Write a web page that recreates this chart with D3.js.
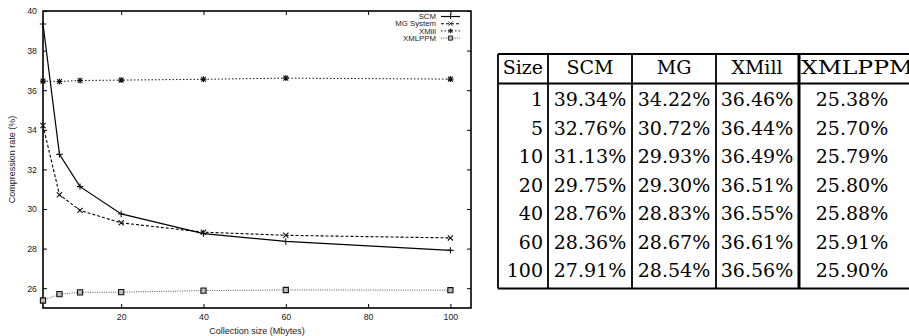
<!DOCTYPE html>
<html>
<head>
<meta charset="utf-8">
<script src="https://cdn.jsdelivr.net/npm/d3@7"></script>
<style>
  body { margin: 0; background: #fff; }
  svg { display: block; }
</style>
</head>
<body>
<svg id="fig" width="909" height="336"></svg>
<script>
// collection sizes (Mbytes) and compression rates (%)
var sizes  = [1, 5, 10, 20, 40, 60, 100];
var scm    = [39.34, 32.76, 31.13, 29.75, 28.76, 28.36, 27.91];
var mg     = [34.22, 30.72, 29.93, 29.30, 28.83, 28.67, 28.54];
var xmill  = [36.46, 36.44, 36.49, 36.51, 36.55, 36.61, 36.56];
var xmlppm = [25.38, 25.70, 25.79, 25.80, 25.88, 25.91, 25.90];
var seriesNames = ["SCM", "MG System", "XMill", "XMLPPM"];
var tableHeads = ["Size", "SCM", "MG", "XMill", "XMLPPM"];
var xTicks = [20, 40, 60, 80, 100];
var yTicks = [26, 28, 30, 32, 34, 36, 38, 40];

var svg = d3.select("#fig");

// ---------- chart ----------
var pLeft = 43, pRight = 471, pTop = 11, pBottom = 308;

var x = d3.scaleLinear().domain([1, 105]).range([pLeft, pRight]);
var y = d3.scaleLinear().domain([25, 40]).range([pBottom, pTop]);

var g = svg.append("g").style("font-family", "'Liberation Sans', Arial, sans-serif");

g.append("g")
    .attr("transform", "translate(" + pLeft + ",0)")
    .call(d3.axisLeft(y).tickValues(yTicks).tickSize(-4).tickPadding(6).tickFormat(d3.format("d")))
    .call(function(a) { a.select(".domain").remove(); });
g.append("g")
    .attr("transform", "translate(" + pRight + ",0)")
    .call(d3.axisRight(y).tickValues(yTicks).tickSize(-4).tickFormat(""))
    .call(function(a) { a.select(".domain").remove(); });
g.append("g")
    .attr("transform", "translate(0," + pBottom + ")")
    .call(d3.axisBottom(x).tickValues(xTicks).tickSize(-4).tickPadding(6))
    .call(function(a) { a.select(".domain").remove(); });
g.append("g")
    .attr("transform", "translate(0," + pTop + ")")
    .call(d3.axisTop(x).tickValues(xTicks).tickSize(-4).tickFormat(""))
    .call(function(a) { a.select(".domain").remove(); });

g.selectAll(".tick text").attr("font-size", 8.8).attr("fill", "#222").attr("font-family", null);
g.selectAll(".tick line").attr("stroke", "#000").attr("stroke-width", 1);

g.append("rect")
    .attr("x", pLeft).attr("y", pTop)
    .attr("width", pRight - pLeft).attr("height", pBottom - pTop)
    .attr("fill", "none").attr("stroke", "#000").attr("stroke-width", 1.6);

g.append("text")
    .attr("transform", "translate(15," + ((pTop + pBottom) / 2) + ") rotate(-90)")
    .attr("text-anchor", "middle")
    .attr("font-size", 9).attr("fill", "#222")
    .text("Compression rate (%)");

g.append("text")
    .attr("x", (pLeft + pRight) / 2).attr("y", 334)
    .attr("text-anchor", "middle")
    .attr("font-size", 9).attr("fill", "#222")
    .text("Collection size (Mbytes)");

// marker shapes
function plus(s) { return "M" + -s + ",0H" + s + "M0," + -s + "V" + s; }
function cross(s) { return "M" + -s + "," + -s + "L" + s + "," + s + "M" + -s + "," + s + "L" + s + "," + -s; }
function square(s) { return "M" + -s + "," + -s + "H" + s + "V" + s + "H" + -s + "Z"; }

var styles = [
  { vals: scm,    dash: null,    color: "#000", width: 1.2, mark: plus(3.2),            fill: "none" },
  { vals: mg,     dash: "3,2",   color: "#000", width: 1.1, mark: cross(2.6),           fill: "none" },
  { vals: xmill,  dash: "1.5,2", color: "#111", width: 1.0, mark: plus(3) + cross(2.4), fill: "none" },
  { vals: xmlppm, dash: "1,1.3", color: "#555", width: 1.0, mark: square(2.6),          fill: "#bbb" }
];

var line = d3.line()
    .x(function(d) { return x(d[0]); })
    .y(function(d) { return y(d[1]); });

styles.forEach(function(s) {
  var pts = sizes.map(function(v, i) { return [v, s.vals[i]]; });
  g.append("path")
      .attr("d", line(pts))
      .attr("fill", "none")
      .attr("stroke", s.color)
      .attr("stroke-width", s.width)
      .attr("stroke-dasharray", s.dash);
  g.selectAll(null)
      .data(pts)
      .enter().append("path")
      .attr("transform", function(d) { return "translate(" + x(d[0]) + "," + y(d[1]) + ")"; })
      .attr("d", s.mark)
      .attr("fill", s.fill)
      .attr("stroke", "#111")
      .attr("stroke-width", 1.1);
});

// legend
var legend = g.append("g").attr("transform", "translate(436,16.5)");
seriesNames.forEach(function(name, i) {
  var row = legend.append("g").attr("transform", "translate(0," + (i * 7.2) + ")");
  row.append("text")
      .attr("text-anchor", "end")
      .attr("dy", "0.35em")
      .attr("font-size", 7.8).attr("fill", "#222")
      .text(name);
  row.append("line")
      .attr("x1", 5).attr("x2", 24)
      .attr("stroke", styles[i].color)
      .attr("stroke-width", styles[i].width)
      .attr("stroke-dasharray", styles[i].dash);
  row.append("path")
      .attr("transform", "translate(14.5,0) scale(0.8)")
      .attr("d", styles[i].mark)
      .attr("fill", styles[i].fill)
      .attr("stroke", "#111")
      .attr("stroke-width", 1.1);
});

// ---------- table ----------
var colEdges = [498, 548, 632, 716, 799];
var tTop = 54, tHead = 83.5, tBottom = 288.5;
var rowY = d3.scaleLinear().domain([0, sizes.length - 1]).range([106, 277]);

var t = svg.append("g").style("font-family", "'DejaVu Serif', serif").attr("font-size", 19);

// borders
[tTop, tHead, tBottom].forEach(function(ly) {
  t.append("line").attr("x1", colEdges[0]).attr("x2", 909).attr("y1", ly).attr("y2", ly)
      .attr("stroke", "#000").attr("stroke-width", 1.8);
});
colEdges.forEach(function(cx, i) {
  t.append("line").attr("x1", cx).attr("x2", cx).attr("y1", tTop).attr("y2", tBottom)
      .attr("stroke", "#000").attr("stroke-width", i === 4 ? 3 : 1.8);
});

// header
var headX = [543, 590, 674, 757, 801];
var headAnchor = ["end", "middle", "middle", "middle", "start"];
tableHeads.forEach(function(h, i) {
  var txt = t.append("text").attr("x", headX[i]).attr("y", 74).attr("text-anchor", headAnchor[i]).text(h);
  if (h === "XMLPPM") txt.attr("textLength", 112).attr("lengthAdjust", "spacingAndGlyphs");
});

// body
var cols = [scm, mg, xmill, xmlppm];
var colX = [590, 674, 757, 852];
sizes.forEach(function(s, r) {
  t.append("text").attr("x", 543).attr("y", rowY(r)).attr("text-anchor", "end").text(s);
  cols.forEach(function(c, j) {
    t.append("text").attr("x", colX[j]).attr("y", rowY(r)).attr("text-anchor", "middle")
        .text(c[r].toFixed(2) + "%");
  });
});
</script>
</body>
</html>
